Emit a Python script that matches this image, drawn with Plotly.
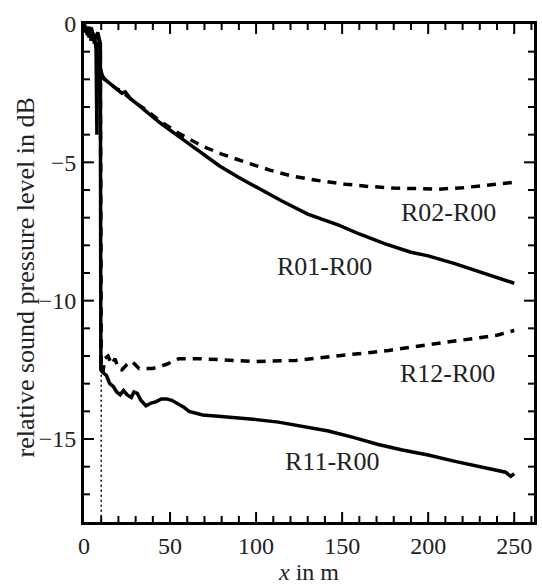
import plotly.graph_objects as go

# ---- data ----
r01_x = [0, 1, 2, 3, 4, 5, 6, 7, 7.5, 7.8, 8, 9, 10, 11, 13, 16, 19, 22, 24, 27, 31, 36, 44, 55, 68, 79, 90,
         102, 115, 130, 148, 160, 175, 190, 200, 215, 230, 240, 250]
r01_y = [0, -0.3, -0.1, -0.5, -0.2, -0.6, -0.4, -0.9, -4.0, -1.0, -1.2, -1.5, -1.8, -1.95, -2.05, -2.2, -2.37,
         -2.5, -2.45, -2.7, -2.9, -3.15, -3.56, -4.06, -4.65, -5.14, -5.55, -5.97, -6.4, -6.87, -7.27, -7.59,
         -7.95, -8.25, -8.38, -8.65, -8.95, -9.15, -9.37]

r02_x = [0, 1, 2, 3, 4, 5, 6, 7, 8, 9, 10, 12, 15, 19, 22, 25, 30, 36, 44, 55, 69, 80, 94, 108, 121, 135,
         152, 165, 180, 195, 206, 220, 235, 250]
r02_y = [0, -0.2, -0.4, -0.1, -0.6, -0.3, -0.7, -0.5, -1.0, -1.5, -1.8, -2.0, -2.15, -2.35, -2.4, -2.6,
         -2.85, -3.1, -3.5, -3.95, -4.42, -4.7, -5.0, -5.28, -5.5, -5.65, -5.79, -5.87, -5.93, -5.97, -5.97,
         -5.92, -5.83, -5.72]

r12_x = [0, 2, 4, 6, 8, 9.5, 10, 11, 12, 14, 16, 18, 20, 22, 25, 28, 32, 40, 48, 55, 68, 84, 100, 123,
         148, 165, 177, 192, 205, 220, 229, 240, 250]
r12_y = [0, -0.3, -0.1, -0.5, -0.4, -0.8, -12.3, -12.6, -12.1, -12.0, -12.3, -12.1, -12.45, -12.5, -12.3,
         -12.2, -12.45, -12.45, -12.3, -12.1, -12.1, -12.16, -12.2, -12.16, -11.98, -11.88, -11.8, -11.66,
         -11.55, -11.45, -11.37, -11.25, -11.08]

r11_x = [0, 2, 4, 6, 8, 9.5, 9.8, 11, 13, 15, 17, 19, 21, 23, 25, 27.5, 29, 31, 33, 36, 39, 42, 45, 48, 51,
         54, 58, 61, 65, 69, 78, 90, 100, 113, 127, 142, 157, 171, 185, 200, 215, 230, 245, 248, 250]
r11_y = [0, -0.4, -0.2, -0.6, -0.3, -0.7, -12.5, -12.6, -12.7, -13.0, -13.1, -13.3, -13.4, -13.25, -13.4,
         -13.5, -13.3, -13.35, -13.6, -13.8, -13.7, -13.65, -13.55, -13.55, -13.6, -13.7, -13.85, -14.0,
         -14.08, -14.13, -14.18, -14.24, -14.3, -14.39, -14.55, -14.71, -14.95, -15.2, -15.4, -15.58, -15.8,
         -16.0, -16.2, -16.35, -16.25]

ref_x = [10, 10]
ref_y = [-12.5, -18]

label_text = ["R02-R00", "R01-R00", "R12-R00", "R11-R00"]
label_x = [212, 140, 211, 144]
label_y = [-6.8, -8.75, -12.63, -15.8]

FONT = "Liberation Serif"
W, H = 542, 585
M = dict(l=84, r=5, t=24, b=61)
PW = W - M["l"] - M["r"]
PH = H - M["t"] - M["b"]

fig = go.Figure()
fig.add_trace(go.Scatter(x=ref_x, y=ref_y, mode="lines",
                         line=dict(color="black", width=1.5, dash="2px,3px")))
fig.add_trace(go.Scatter(x=r02_x, y=r02_y, mode="lines",
                         line=dict(color="black", width=3.5, dash="9px,7px")))
fig.add_trace(go.Scatter(x=r12_x, y=r12_y, mode="lines",
                         line=dict(color="black", width=3.5, dash="9px,7px")))
fig.add_trace(go.Scatter(x=r01_x, y=r01_y, mode="lines",
                         line=dict(color="black", width=3.5)))
fig.add_trace(go.Scatter(x=r11_x, y=r11_y, mode="lines",
                         line=dict(color="black", width=3.5)))

for t, x, y in zip(label_text, label_x, label_y):
    fig.add_annotation(x=x, y=y, text=t, showarrow=False,
                       font=dict(family=FONT, size=26, color="#222"))

fig.add_annotation(xref="paper", yref="paper", x=-0.13, y=0.49, xanchor="center", yanchor="middle",
                   text="relative sound pressure level in dB", textangle=-90, showarrow=False,
                   font=dict(family=FONT, size=26, color="#222"))

# inside tick marks on all four sides (axis decoration, placed on the axes' own scales)
tick_line = dict(color="black", width=2)
for v in range(10, 261, 10):
    ln = 10 if v % 50 == 0 else 6
    fy = ln / PH
    fig.add_shape(type="line", xref="x", yref="paper", x0=v, x1=v, y0=0, y1=fy, line=tick_line, layer="above")
    fig.add_shape(type="line", xref="x", yref="paper", x0=v, x1=v, y0=1, y1=1 - fy, line=tick_line, layer="above")
for v in range(-17, 0):
    ln = 10 if v % 5 == 0 else 6
    fx = ln / PW
    fig.add_shape(type="line", xref="paper", yref="y", x0=0, x1=fx, y0=v, y1=v, line=tick_line, layer="above")
    fig.add_shape(type="line", xref="paper", yref="y", x0=1, x1=1 - fx, y0=v, y1=v, line=tick_line, layer="above")

fig.update_xaxes(range=[0, 261.5], showline=True, linecolor="black", linewidth=3, mirror=True,
                 ticks="", dtick=50, showgrid=False, zeroline=False,
                 tickfont=dict(family=FONT, size=24, color="#222"),
                 title=dict(text="<i>x</i> in m", font=dict(family=FONT, size=24, color="#222"), standoff=4))
fig.update_yaxes(range=[-18, 0], showline=True, linecolor="black", linewidth=3, mirror=True,
                 ticks="", dtick=5, showgrid=False, zeroline=False,
                 tickfont=dict(family=FONT, size=24, color="#222"))

fig.update_layout(width=W, height=H, margin=M,
                  paper_bgcolor="white", plot_bgcolor="white", showlegend=False)

fig.write_html("out.html")
